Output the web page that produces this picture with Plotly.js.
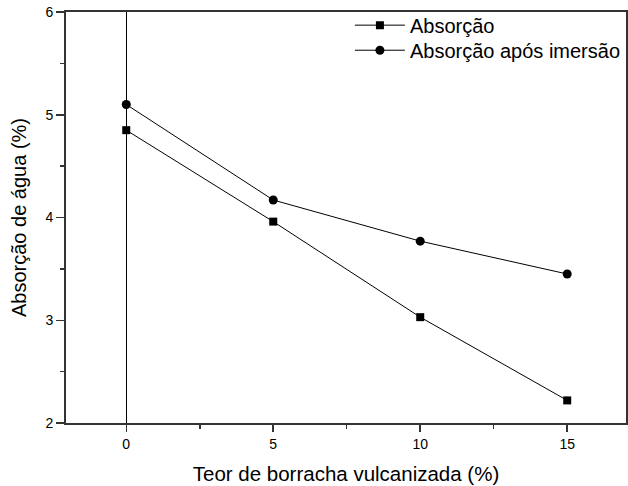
<!DOCTYPE html>
<html>
<head>
<meta charset="utf-8">
<script src="https://cdn.plot.ly/plotly-3.0.1.min.js"></script>
<style>html,body{margin:0;padding:0;background:#fff}#chart{width:628px;height:486px}</style>
</head>
<body>
<div id="chart"></div>
<script>
const teor = [0, 5, 10, 15];
const absorcao = [4.85, 3.96, 3.03, 2.22];
const absorcaoImersao = [5.10, 4.17, 3.77, 3.45];
const seriesNames = ["Absorção", "Absorção após imersão"];
const xTitle = "Teor de borracha vulcanizada (%)";
const yTitle = "Absorção de água (%)";

const font = "Liberation Sans, Arial, sans-serif";

const traces = [
  {x: teor, y: absorcao, name: seriesNames[0], mode: "lines+markers", legend: "legend",
   line: {color: "#000", width: 1}, marker: {symbol: "square", size: 8, color: "#000"}},
  {x: teor, y: absorcaoImersao, name: seriesNames[1], mode: "lines+markers", legend: "legend2",
   line: {color: "#000", width: 1}, marker: {symbol: "circle", size: 9, color: "#000"}}
];

const legendBase = {xanchor: "left", yanchor: "middle", bgcolor: "rgba(0,0,0,0)", borderwidth: 0,
  font: {family: font, size: 20, color: "#000"}, itemwidth: 50};

const layout = {
  width: 628, height: 486,
  margin: {l: 66, r: 2, t: 12, b: 63},
  paper_bgcolor: "#fff", plot_bgcolor: "#fff",
  font: {family: font, color: "#000", size: 14},
  showlegend: true,
  legend: Object.assign({}, legendBase, {x: 0.507, y: 0.968}),
  legend2: Object.assign({}, legendBase, {x: 0.507, y: 0.907}),
  xaxis: {
    range: [-2.05, 17.0], tickvals: teor, ticks: "outside", ticklen: 7, tickwidth: 1.5, tickcolor: "#333",
    showgrid: false, zeroline: true, zerolinecolor: "#000", zerolinewidth: 1,
    showline: true, linecolor: "#333", linewidth: 2, mirror: true,
    tickfont: {size: 14, family: font},
    minor: {tickvals: [2.5, 7.5, 12.5], ticks: "outside", ticklen: 4, tickwidth: 1.5, tickcolor: "#333", showgrid: false},
    title: {text: xTitle, font: {size: 20.5, family: font}, standoff: 16}
  },
  yaxis: {
    range: [2, 6], tickvals: [2, 3, 4, 5, 6], ticks: "outside", ticklen: 8, tickwidth: 1.5, tickcolor: "#333",
    showgrid: false, zeroline: false,
    showline: true, linecolor: "#333", linewidth: 2, mirror: true,
    tickfont: {size: 14, family: font},
    minor: {tickvals: [2.5, 3.5, 4.5, 5.5], ticks: "outside", ticklen: 4, tickwidth: 1.5, tickcolor: "#333", showgrid: false},
    title: {text: yTitle, font: {size: 20, family: font}, standoff: 13}
  }
};

Plotly.newPlot("chart", traces, layout, {displayModeBar: false, staticPlot: true});
</script>
</body>
</html>
